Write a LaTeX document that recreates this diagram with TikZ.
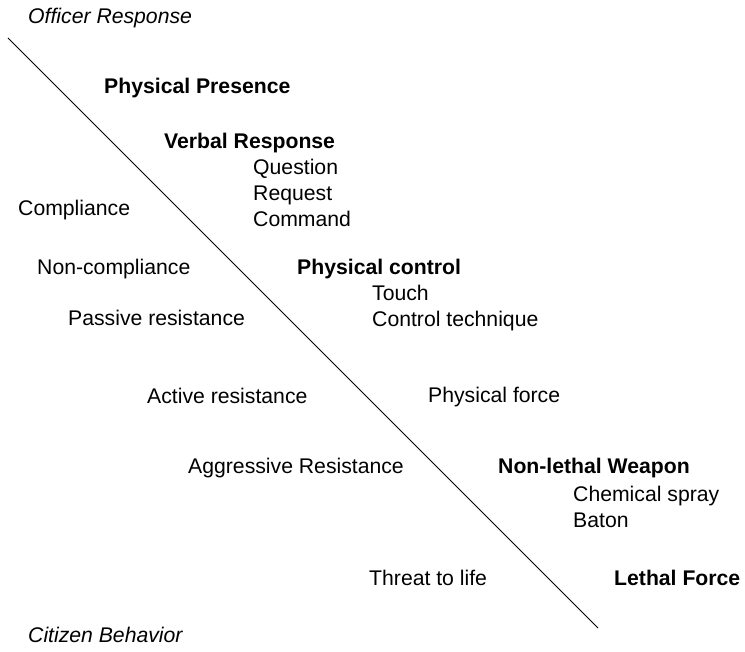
\documentclass[tikz,border=0pt]{standalone}
\usepackage{fontspec}
\setmainfont{Liberation Sans}
\begin{document}
\begin{tikzpicture}[x=1pt,y=-1pt,
  lbl/.style={anchor=base west,inner sep=0pt,font=\fontsize{21.2}{24}\selectfont},
  hd/.style={lbl,font=\fontsize{21.2}{24}\selectfont\bfseries},
  ax/.style={lbl,font=\fontsize{21.2}{24}\selectfont\itshape}]
\useasboundingbox (0,0) rectangle (745,652);
\coordinate (s) at (8,38);
\coordinate (e) at (598,628);
\draw[line width=1pt] (s) -- (e);
\node[ax] (off) at (28,24) {Officer Response};
\node[ax] (cit) at (28,642) {Citizen Behavior};
\node[hd] (pp) at (104,94) {Physical Presence};
\node[hd] (vr) at (164,149) {Verbal Response};
\node[lbl] (q) at (253,175) {Question};
\node[lbl] (r) at (253,201) {Request};
\node[lbl] (c) at (253,227) {Command};
\node[lbl] (comp) at (18,216) {Compliance};
\node[lbl] (nc) at (37,275) {Non-compliance};
\node[hd] (pc) at (297,275) {Physical control};
\node[lbl] (t) at (372,301) {Touch};
\node[lbl] (ct) at (372,327) {Control technique};
\node[lbl] (pr) at (68,326) {Passive resistance};
\node[lbl] (ar) at (147,404) {Active resistance};
\node[lbl] (pf) at (428,403) {Physical force};
\node[lbl] (agr) at (188,473) {Aggressive Resistance};
\node[hd] (nl) at (498,474) {Non-lethal Weapon};
\node[lbl] (cs) at (573,501) {Chemical spray};
\node[lbl] (b) at (573,527) {Baton};
\node[lbl] (tl) at (369,585) {Threat to life};
\node[hd] (lf) at (614,585) {Lethal Force};
\end{tikzpicture}
\end{document}
